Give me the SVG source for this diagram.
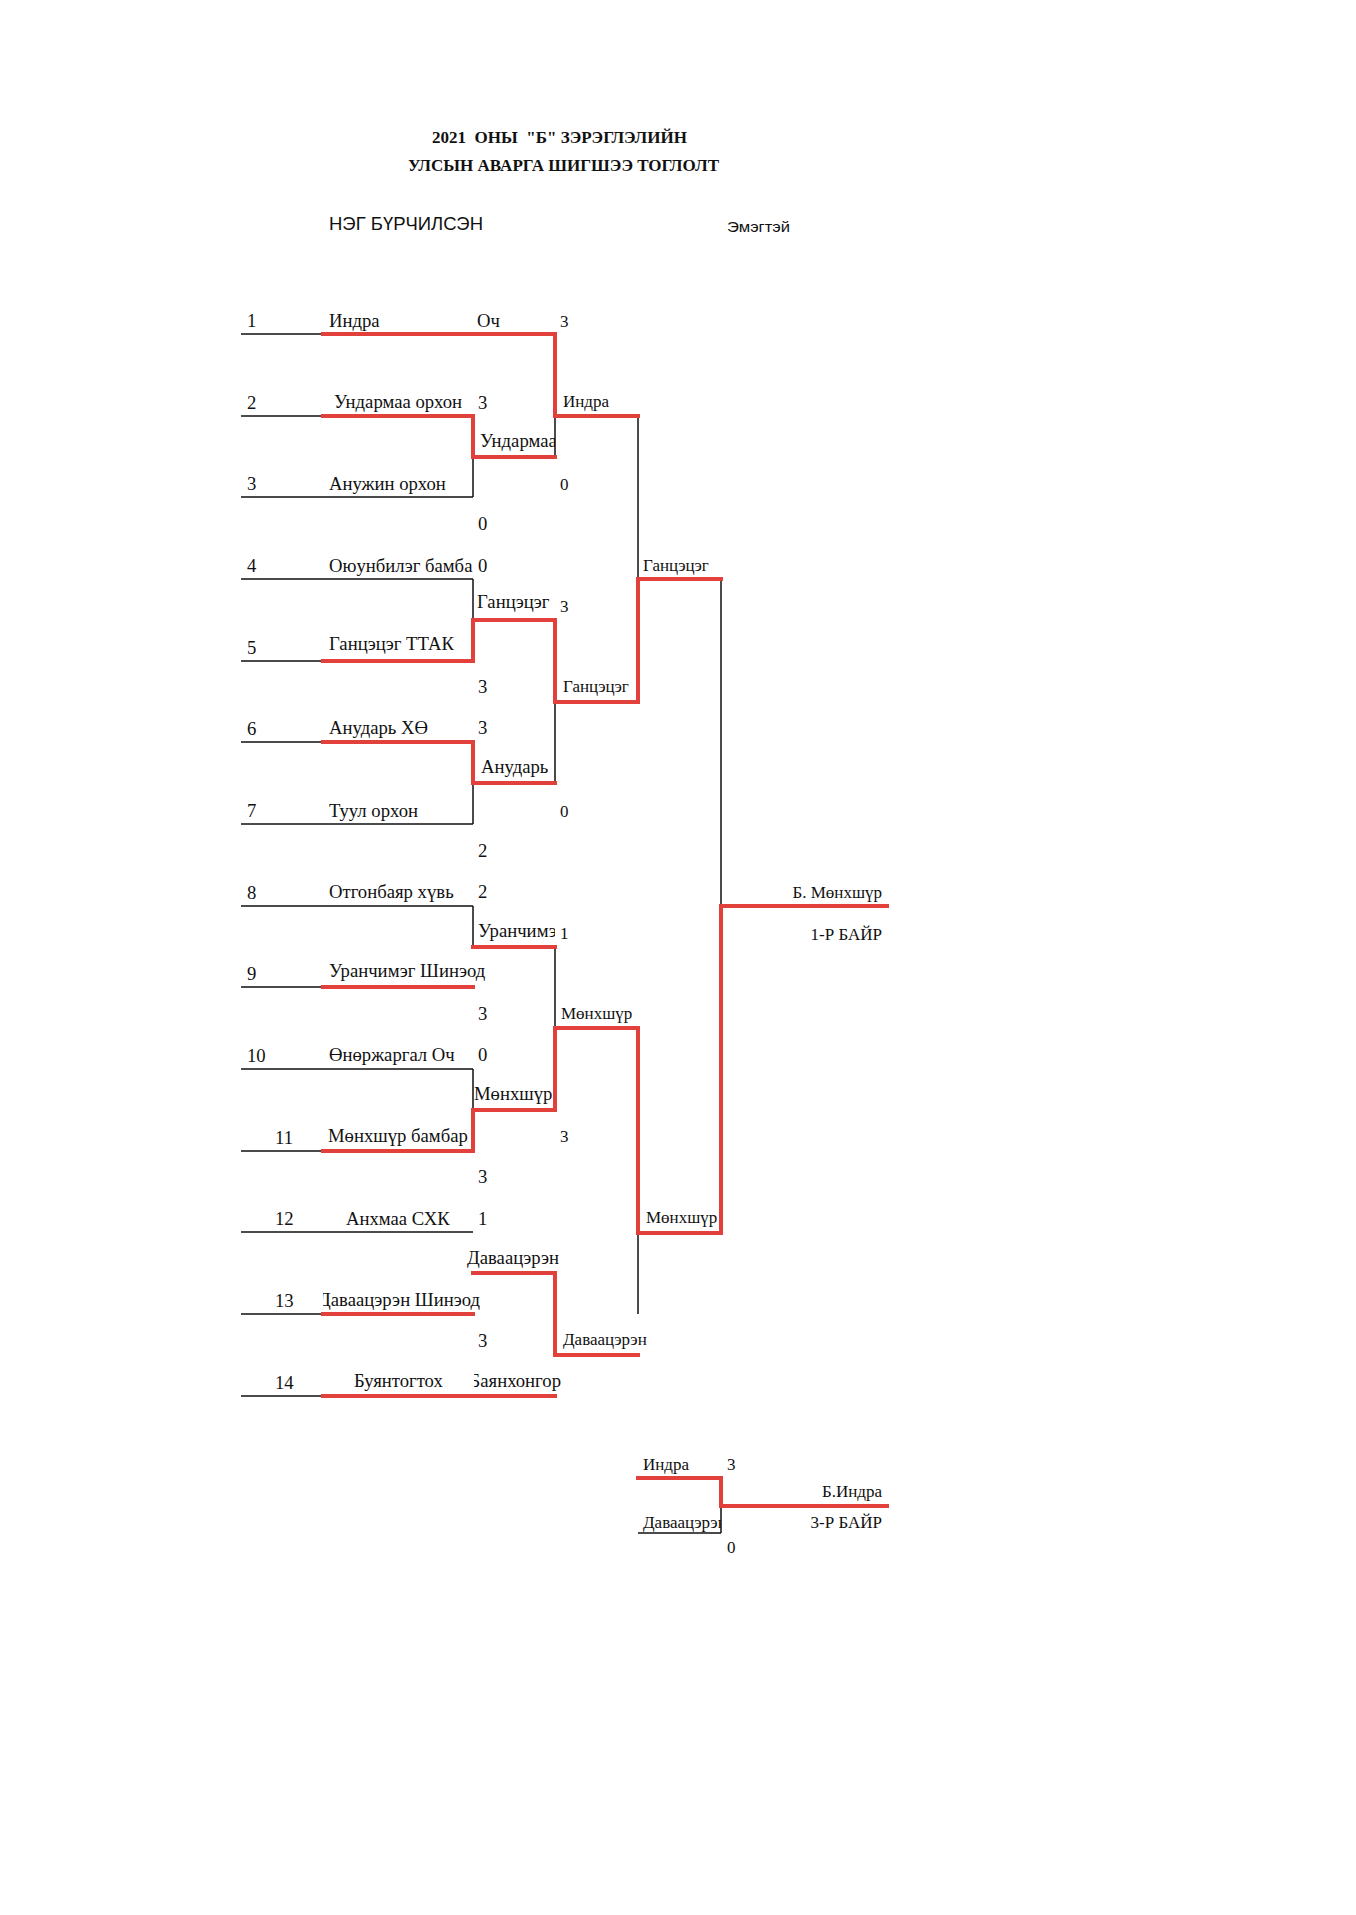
<svg xmlns="http://www.w3.org/2000/svg" width="1356" height="1915" viewBox="0 0 1356 1915">
<style>
.t{font-family:"Liberation Serif","Times New Roman",serif;font-size:18.7px;fill:#111}
.m{font-family:"Liberation Serif","Times New Roman",serif;font-size:17px;fill:#111}
.b{font-family:"Liberation Serif","Times New Roman",serif;font-size:17.5px;font-weight:bold;fill:#111}
.s{font-family:"Liberation Sans",Arial,sans-serif;fill:#111}
.e{text-anchor:end}
.k{stroke:#111;stroke-width:1.5;fill:none}
.r{stroke:#E2403A;stroke-width:4;fill:none;stroke-linejoin:miter;stroke-linecap:square}
</style>
<defs>
<clipPath id="c1"><rect x="470" y="425" width="85" height="30"/></clipPath>
<clipPath id="c2"><rect x="470" y="915" width="85" height="30"/></clipPath>
<clipPath id="c3"><rect x="323" y="1285" width="160" height="30"/></clipPath>
<clipPath id="c4"><rect x="474" y="1365" width="100" height="30"/></clipPath>
<clipPath id="c5"><rect x="640" y="1505" width="81" height="30"/></clipPath>
</defs>
<rect width="1356" height="1915" fill="#fff"/>

<g id="header">
<text class="b" x="432" y="143" textLength="255" lengthAdjust="spacingAndGlyphs" xml:space="preserve">2021  ОНЫ  "Б" ЗЭРЭГЛЭЛИЙН</text>
<text class="b" x="408" y="171" textLength="311" lengthAdjust="spacingAndGlyphs">УЛСЫН АВАРГА ШИГШЭЭ ТОГЛОЛТ</text>
<text class="s" x="329" y="230" font-size="17.6" textLength="154" lengthAdjust="spacingAndGlyphs">НЭГ БҮРЧИЛСЭН</text>
<text class="s" x="727" y="232" font-size="15.5" textLength="63" lengthAdjust="spacingAndGlyphs">Эмэгтэй</text>
</g>

<g id="connectors">
<path class="k" d="M241 334H323M241 416H323M241 497H473M241 579H473M241 661H323M241 742H323M241 824H473M241 906H473M241 987H323M241 1069H473M241 1151H323M241 1232H473M241 1314H323M241 1396H323"/>
<path class="k" d="M473 457V497M473 579V620M473 783V824M473 906V947M473 1069V1110M555 416V457M555 702V783M555 947V1028M638 416V579M638 1233V1314M721 579V906M721 1506V1533M638 1533H721"/>
<path class="r" d="M323 334H555V416H638"/>
<path class="r" d="M323 416H473V457H555"/>
<path class="r" d="M323 661H473V620H555V702H638V579H721"/>
<path class="r" d="M323 742H473V783H555"/>
<path class="r" d="M323 987H473"/>
<path class="r" d="M473 947H555"/>
<path class="r" d="M323 1151H473V1110H555V1028H638V1233H721V906H887"/>
<path class="r" d="M323 1314H473"/>
<path class="r" d="M473 1273H555V1355H638"/>
<path class="r" d="M323 1396H555"/>
<path class="r" d="M638 1478H721V1506H887"/>
</g>

<g id="entrant-1"><text class="t" x="247" y="327">1</text><text class="t" x="329" y="327">Индра</text><text class="t" x="477" y="327">Оч</text></g>
<g id="entrant-2"><text class="t" x="247" y="409">2</text><text class="t" x="334" y="408">Ундармаа орхон</text><text class="t" x="478" y="409">3</text></g>
<g id="entrant-3"><text class="t" x="247" y="490">3</text><text class="t" x="329" y="490">Анужин орхон</text><text class="t" x="478" y="530">0</text></g>
<g id="entrant-4"><text class="t" x="247" y="572">4</text><text class="t" x="329" y="572">Оюунбилэг бамба</text><text class="t" x="478" y="572">0</text></g>
<g id="entrant-5"><text class="t" x="247" y="654">5</text><text class="t" x="329" y="650">Ганцэцэг ТТАК</text><text class="t" x="478" y="693">3</text></g>
<g id="entrant-6"><text class="t" x="247" y="735">6</text><text class="t" x="329" y="734">Анударь ХӨ</text><text class="t" x="478" y="734">3</text></g>
<g id="entrant-7"><text class="t" x="247" y="817">7</text><text class="t" x="329" y="817">Туул орхон</text><text class="t" x="478" y="857">2</text></g>
<g id="entrant-8"><text class="t" x="247" y="899">8</text><text class="t" x="329" y="898">Отгонбаяр хүвь</text><text class="t" x="478" y="898">2</text></g>
<g id="entrant-9"><text class="t" x="247" y="980">9</text><text class="t" x="329" y="977">Уранчимэг Шинэод</text><text class="t" x="478" y="1020">3</text></g>
<g id="entrant-10"><text class="t" x="247" y="1062">10</text><text class="t" x="329" y="1061">Өнөржаргал Оч</text><text class="t" x="478" y="1061">0</text></g>
<g id="entrant-11"><text class="t" x="275" y="1144">11</text><text class="t" x="328" y="1142">Мөнхшүр бамбар</text><text class="t" x="478" y="1183">3</text></g>
<g id="entrant-12"><text class="t" x="275" y="1225">12</text><text class="t" x="346" y="1225">Анхмаа СХК</text><text class="t" x="478" y="1225">1</text></g>
<g id="entrant-13"><text class="t" x="275" y="1307">13</text><text class="t e" x="480" y="1306" clip-path="url(#c3)">Даваацэрэн Шинэод</text><text class="t" x="478" y="1347">3</text></g>
<g id="entrant-14"><text class="t" x="275" y="1389">14</text><text class="t" x="354" y="1387">Буянтогтох</text><text class="t e" x="561" y="1387" clip-path="url(#c4)">Баянхонгор</text></g>

<g id="round2-labels">
<text class="t" x="480" y="447" clip-path="url(#c1)">Ундармаа</text>
<text class="t" x="477" y="608">Ганцэцэг</text>
<text class="t" x="481" y="773">Анударь</text>
<text class="t" x="478" y="937" clip-path="url(#c2)">Уранчимэг</text>
<text class="t" x="474" y="1100">Мөнхшүр</text>
<text class="t" x="467" y="1264">Даваацэрэн</text>
</g>

<g id="round3-labels">
<text class="m" x="560" y="327">3</text>
<text class="m" x="563" y="407">Индра</text>
<text class="m" x="560" y="490">0</text>
<text class="m" x="560" y="612">3</text>
<text class="m" x="563" y="692">Ганцэцэг</text>
<text class="m" x="560" y="817">0</text>
<text class="m" x="560" y="939">1</text>
<text class="m" x="561" y="1019">Мөнхшүр</text>
<text class="m" x="560" y="1142">3</text>
<text class="m" x="563" y="1345">Даваацэрэн</text>
</g>

<g id="semifinal-labels">
<text class="m" x="643" y="571">Ганцэцэг</text>
<text class="m" x="646" y="1223">Мөнхшүр</text>
</g>

<g id="final">
<text class="m e" x="882" y="898">Б. Мөнхшүр</text>
<text class="m e" x="882" y="940">1-Р БАЙР</text>
</g>

<g id="third-place">
<text class="m" x="643" y="1470">Индра</text>
<text class="m" x="727" y="1470">3</text>
<text class="m" x="643" y="1528" clip-path="url(#c5)">Даваацэрэн</text>
<text class="m" x="727" y="1553">0</text>
<text class="m e" x="882" y="1497">Б.Индра</text>
<text class="m e" x="882" y="1528">3-Р БАЙР</text>
</g>
</svg>
